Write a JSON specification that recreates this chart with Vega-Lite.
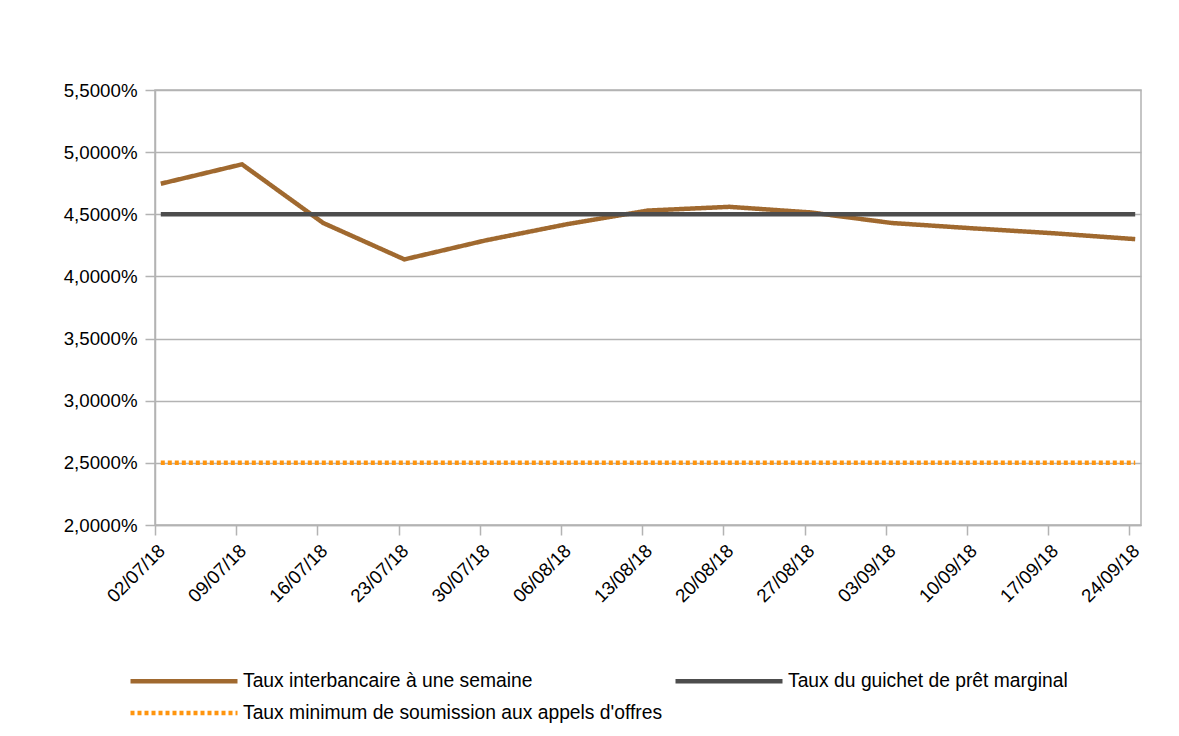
{
  "$schema": "https://vega.github.io/schema/vega-lite/v6.json",
  "width": 986,
  "height": 435,
  "padding": {"left": 63, "top": 81, "right": 0, "bottom": 0},
  "background": "white",
  "config": {
    "font": "Liberation Sans",
    "view": {"stroke": "#b3b3b3", "strokeWidth": 1.5},
    "axis": {"labelFontSize": 18.7, "labelColor": "black", "tickColor": "#b3b3b3", "domainColor": "#b3b3b3", "gridColor": "#b3b3b3", "tickSize": 10, "tickWidth": 1.5, "domainWidth": 1.5, "gridWidth": 1.5}
  },
  "data": {
    "values": [
      {"date": "2018-07-02", "serie": "Taux interbancaire à une semaine", "taux": 4.746},
      {"date": "2018-07-09", "serie": "Taux interbancaire à une semaine", "taux": 4.902},
      {"date": "2018-07-16", "serie": "Taux interbancaire à une semaine", "taux": 4.43},
      {"date": "2018-07-23", "serie": "Taux interbancaire à une semaine", "taux": 4.137},
      {"date": "2018-07-30", "serie": "Taux interbancaire à une semaine", "taux": 4.29},
      {"date": "2018-08-06", "serie": "Taux interbancaire à une semaine", "taux": 4.42},
      {"date": "2018-08-13", "serie": "Taux interbancaire à une semaine", "taux": 4.53},
      {"date": "2018-08-20", "serie": "Taux interbancaire à une semaine", "taux": 4.56},
      {"date": "2018-08-27", "serie": "Taux interbancaire à une semaine", "taux": 4.515},
      {"date": "2018-09-03", "serie": "Taux interbancaire à une semaine", "taux": 4.43},
      {"date": "2018-09-10", "serie": "Taux interbancaire à une semaine", "taux": 4.387},
      {"date": "2018-09-17", "serie": "Taux interbancaire à une semaine", "taux": 4.347},
      {"date": "2018-09-24", "serie": "Taux interbancaire à une semaine", "taux": 4.3},
      {"date": "2018-07-02", "serie": "Taux du guichet de prêt marginal", "taux": 4.5},
      {"date": "2018-07-09", "serie": "Taux du guichet de prêt marginal", "taux": 4.5},
      {"date": "2018-07-16", "serie": "Taux du guichet de prêt marginal", "taux": 4.5},
      {"date": "2018-07-23", "serie": "Taux du guichet de prêt marginal", "taux": 4.5},
      {"date": "2018-07-30", "serie": "Taux du guichet de prêt marginal", "taux": 4.5},
      {"date": "2018-08-06", "serie": "Taux du guichet de prêt marginal", "taux": 4.5},
      {"date": "2018-08-13", "serie": "Taux du guichet de prêt marginal", "taux": 4.5},
      {"date": "2018-08-20", "serie": "Taux du guichet de prêt marginal", "taux": 4.5},
      {"date": "2018-08-27", "serie": "Taux du guichet de prêt marginal", "taux": 4.5},
      {"date": "2018-09-03", "serie": "Taux du guichet de prêt marginal", "taux": 4.5},
      {"date": "2018-09-10", "serie": "Taux du guichet de prêt marginal", "taux": 4.5},
      {"date": "2018-09-17", "serie": "Taux du guichet de prêt marginal", "taux": 4.5},
      {"date": "2018-09-24", "serie": "Taux du guichet de prêt marginal", "taux": 4.5},
      {"date": "2018-07-02", "serie": "Taux minimum de soumission aux appels d'offres", "taux": 2.5},
      {"date": "2018-07-09", "serie": "Taux minimum de soumission aux appels d'offres", "taux": 2.5},
      {"date": "2018-07-16", "serie": "Taux minimum de soumission aux appels d'offres", "taux": 2.5},
      {"date": "2018-07-23", "serie": "Taux minimum de soumission aux appels d'offres", "taux": 2.5},
      {"date": "2018-07-30", "serie": "Taux minimum de soumission aux appels d'offres", "taux": 2.5},
      {"date": "2018-08-06", "serie": "Taux minimum de soumission aux appels d'offres", "taux": 2.5},
      {"date": "2018-08-13", "serie": "Taux minimum de soumission aux appels d'offres", "taux": 2.5},
      {"date": "2018-08-20", "serie": "Taux minimum de soumission aux appels d'offres", "taux": 2.5},
      {"date": "2018-08-27", "serie": "Taux minimum de soumission aux appels d'offres", "taux": 2.5},
      {"date": "2018-09-03", "serie": "Taux minimum de soumission aux appels d'offres", "taux": 2.5},
      {"date": "2018-09-10", "serie": "Taux minimum de soumission aux appels d'offres", "taux": 2.5},
      {"date": "2018-09-17", "serie": "Taux minimum de soumission aux appels d'offres", "taux": 2.5},
      {"date": "2018-09-24", "serie": "Taux minimum de soumission aux appels d'offres", "taux": 2.5}
    ]
  },
  "mark": {"type": "line", "strokeWidth": 4.5, "strokeCap": "butt"},
  "encoding": {
    "x": {
      "field": "date",
      "type": "temporal",
      "timeUnit": "utcyearmonthdate",
      "bandPosition": 0.5,
      "title": null,
      "scale": {"type": "utc", "domain": [{"year": 2018, "month": 7, "date": 2, "utc": true}, {"year": 2018, "month": 9, "date": 25, "utc": true}]},
      "axis": {
        "labelExpr": "utcFormat(datum.value, '%d/%m/%y')",
        "labelAngle": -45,
        "grid": false,
        "labelPadding": 6,
        "values": [
          {"year": 2018, "month": 7, "date": 2, "utc": true},
          {"year": 2018, "month": 7, "date": 9, "utc": true},
          {"year": 2018, "month": 7, "date": 16, "utc": true},
          {"year": 2018, "month": 7, "date": 23, "utc": true},
          {"year": 2018, "month": 7, "date": 30, "utc": true},
          {"year": 2018, "month": 8, "date": 6, "utc": true},
          {"year": 2018, "month": 8, "date": 13, "utc": true},
          {"year": 2018, "month": 8, "date": 20, "utc": true},
          {"year": 2018, "month": 8, "date": 27, "utc": true},
          {"year": 2018, "month": 9, "date": 3, "utc": true},
          {"year": 2018, "month": 9, "date": 10, "utc": true},
          {"year": 2018, "month": 9, "date": 17, "utc": true},
          {"year": 2018, "month": 9, "date": 24, "utc": true}
        ]
      }
    },
    "y": {
      "field": "taux",
      "type": "quantitative",
      "title": null,
      "scale": {"domain": [2, 5.5], "nice": false, "zero": false},
      "axis": {
        "values": [2, 2.5, 3, 3.5, 4, 4.5, 5, 5.5],
        "labelExpr": "replace(format(datum.value, '.4f'), '.', ',') + '%'",
        "labelPadding": 8
      }
    },
    "color": {
      "field": "serie",
      "type": "nominal",
      "scale": {
        "domain": ["Taux interbancaire à une semaine", "Taux minimum de soumission aux appels d'offres", "Taux du guichet de prêt marginal"],
        "range": ["#a0692f", "#ff950e", "#4d4d4d"]
      },
      "legend": {
        "title": null,
        "orient": "none",
        "legendX": -27,
        "legendY": 581,
        "columns": 2,
        "columnPadding": 10,
        "rowPadding": 11,
        "clipHeight": 20,
        "symbolType": "stroke",
        "symbolSize": 11449,
        "symbolStrokeWidth": 4.5,
        "labelFontSize": 19.3,
        "labelColor": "black",
        "labelOffset": 3,
        "labelLimit": 600
      }
    },
    "strokeDash": {
      "field": "serie",
      "type": "nominal",
      "scale": {
        "domain": ["Taux interbancaire à une semaine", "Taux minimum de soumission aux appels d'offres", "Taux du guichet de prêt marginal"],
        "range": [[1, 0], [4, 3], [1, 0]]
      },
      "legend": null
    }
  }
}
